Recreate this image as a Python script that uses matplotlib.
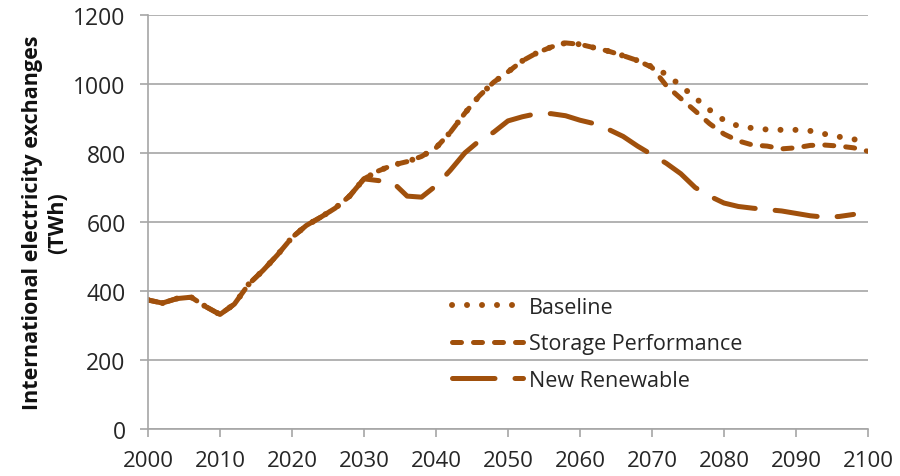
import numpy as np
import matplotlib
matplotlib.use("Agg")
import matplotlib.pyplot as plt

years = list(range(2000, 2101, 2))

baseline = [374, 365, 378, 382, 355, 332, 362, 420, 460, 505,
            555, 590, 614, 640, 675, 725, 748, 765, 775, 790,
            815, 860, 915, 965, 1005, 1035, 1067, 1090, 1107, 1119,
            1115, 1105, 1095, 1082, 1068, 1050, 1028, 995, 960, 925,
            895, 878, 872, 868, 867, 867, 864, 855, 847, 840, 830]

storage = [374, 365, 378, 382, 355, 332, 362, 420, 460, 505,
           555, 590, 614, 640, 675, 725, 748, 765, 775, 790,
           815, 860, 915, 965, 1005, 1035, 1067, 1090, 1107, 1119,
           1115, 1105, 1095, 1082, 1068, 1048, 995, 958, 922, 885,
           855, 835, 823, 820, 812, 815, 822, 823, 820, 815, 805]

new_renewable = [374, 365, 378, 382, 355, 332, 362, 420, 460, 505,
                 555, 590, 614, 640, 675, 725, 720, 715, 675, 672,
                 705, 750, 800, 835, 860, 893, 905, 914, 914, 908,
                 895, 885, 868, 848, 820, 795, 770, 740, 700, 675,
                 655, 645, 640, 636, 632, 625, 618, 614, 616, 622, np.nan]

series_names = ["Baseline", "Storage Performance", "New Renewable"]
x_ticks = list(range(2000, 2101, 10))
y_ticks = list(range(0, 1201, 200))

color = "#A0500C"
plt.rcParams["font.family"] = ["Open Sans", "DejaVu Sans"]

fig = plt.figure(figsize=(9, 4.77), dpi=100)
ax = fig.add_axes([0.1644, 0.0985, 0.80, 0.868])

lw = 3.6
l1, = ax.plot(years, baseline, color=color, lw=4.3, linestyle=(0, (0.01, 2.5)),
              dash_capstyle="round", label=series_names[0])
l2, = ax.plot(years, storage, color=color, lw=lw, linestyle=(0, (1.8, 2.4)),
              dash_capstyle="round", label=series_names[1])
l3, = ax.plot(years, new_renewable, color=color, lw=lw, linestyle=(0, (8.5, 4.0)),
              dash_capstyle="round", label=series_names[2])

ax.set_xlim(2000, 2100)
ax.set_ylim(0, 1200)
ax.set_xticks(x_ticks)
ax.set_yticks(y_ticks)
ax.yaxis.grid(True, color="#A6A6A6", lw=1.2)
ax.set_axisbelow(True)
for s in ["top", "right"]:
    ax.spines[s].set_visible(False)
for s in ["left", "bottom"]:
    ax.spines[s].set_color("#A6A6A6")
    ax.spines[s].set_linewidth(1.2)
ax.tick_params(axis="both", colors="#A6A6A6", length=6, width=1.2,
               labelcolor="#262626", labelsize=16.5)
ax.tick_params(axis="x", pad=9, labelsize=16)
ax.tick_params(axis="y", pad=10)

ax.set_ylabel("International electricity exchanges\n(TWh)", fontsize=15.5,
              fontweight="bold", color="#111111", labelpad=4, linespacing=1.25)

leg = ax.legend(handles=[l1, l2, l3], loc="upper left",
                bbox_to_anchor=(0.41, 0.34), frameon=False, fontsize=15.5,
                handlelength=3.3, handletextpad=0.3, labelspacing=0.72,
                borderaxespad=0)
for t in leg.get_texts():
    t.set_color("#262626")

fig.savefig("out.png", dpi=100)
